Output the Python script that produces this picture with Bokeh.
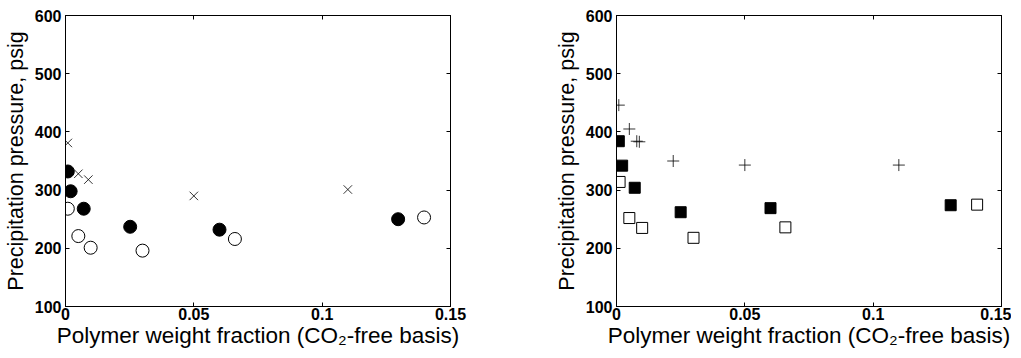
from bokeh.plotting import figure
from bokeh.layouts import row
from bokeh.models import Range1d, FixedTicker, LinearAxis
from bokeh.embed import file_html
from bokeh.resources import INLINE

# ---- Left panel data ----
L_cross_x = [0.0009, 0.005, 0.0089, 0.050, 0.110]
L_cross_y = [381, 328, 318, 290, 301]
L_fill_x = [0.0009, 0.002, 0.0071, 0.0252, 0.060, 0.1296]
L_fill_y = [332, 298, 268, 237, 232, 250]
L_open_x = [0.0009, 0.005, 0.0098, 0.030, 0.066, 0.1397]
L_open_y = [268, 221, 201, 196, 216, 253]

# ---- Right panel data ----
R_plus_x = [0.0009, 0.005, 0.0079, 0.0089, 0.0221, 0.050, 0.110]
R_plus_y = [446, 405, 384, 383, 350, 343, 343]
R_fill_x = [0.0009, 0.0022, 0.0071, 0.025, 0.060, 0.1302]
R_fill_y = [384, 342, 304, 262, 269, 274]
R_open_x = [0.0012, 0.005, 0.010, 0.030, 0.0658, 0.1405]
R_open_y = [314, 252, 235, 218, 236, 275]

x_ticks = [0, 0.05, 0.1, 0.15]
x_tick_labels = ["0", "0.05", "0.1", "0.15"]
y_ticks = [100, 200, 300, 400, 500, 600]

XLABEL = "Polymer weight fraction (CO\u2082-free basis)"
YLABEL = "Precipitation pressure, psig"
FONT = "Liberation Sans"


def make_fig(width, border_left, border_right):
    p = figure(width=width, height=350, output_backend="svg", toolbar_location=None,
               x_range=Range1d(0, 0.15), y_range=Range1d(100, 600),
               min_border_left=border_left, min_border_right=border_right,
               min_border_top=15, min_border_bottom=43)
    p.xgrid.visible = False
    p.ygrid.visible = False
    p.outline_line_color = "black"
    p.outline_line_width = 1
    p.background_fill_color = "white"
    p.border_fill_color = "white"

    xa = p.xaxis[0]
    ya = p.yaxis[0]
    xa.ticker = FixedTicker(ticks=x_ticks)
    xa.major_label_overrides = {t: l for t, l in zip(x_ticks, x_tick_labels)}
    ya.ticker = FixedTicker(ticks=y_ticks)
    for ax in (xa, ya):
        ax.major_tick_in = 4
        ax.major_tick_out = 0
        ax.minor_tick_line_color = None
        ax.axis_line_color = "black"
        ax.major_tick_line_color = "black"
        ax.major_label_text_font = FONT
        ax.major_label_text_font_style = "bold"
        ax.major_label_text_font_size = "16px"
        ax.major_label_text_color = "black"
        ax.axis_label_text_font = FONT
        ax.axis_label_text_font_style = "normal"
        ax.axis_label_text_color = "black"
    xa.axis_label_text_font_size = "22.5px"
    ya.axis_label_text_font_size = "21.5px"
    xa.axis_label = XLABEL
    ya.axis_label = YLABEL
    xa.major_label_standoff = 1
    ya.major_label_standoff = 4
    xa.axis_label_standoff = 0
    ya.axis_label_standoff = 4

    top = LinearAxis(ticker=FixedTicker(ticks=x_ticks))
    right = LinearAxis(ticker=FixedTicker(ticks=y_ticks))
    for ax in (top, right):
        ax.major_tick_in = 4
        ax.major_tick_out = 0
        ax.minor_tick_line_color = None
        ax.major_label_text_font_size = "1px"
        ax.major_label_text_color = None
        ax.major_label_standoff = 0
        ax.axis_line_color = "black"
    p.add_layout(top, "above")
    p.add_layout(right, "right")
    return p


left = make_fig(551, 65, 101)
left.scatter(L_cross_x, L_cross_y, marker="x", size=12, line_color="black", line_width=0.8)
left.scatter(L_fill_x, L_fill_y, marker="circle", size=13, fill_color="black", line_color="black")
left.scatter(L_open_x, L_open_y, marker="circle", size=13, fill_color="white", line_color="black", line_width=1)

right_p = make_fig(460, 63, 10)
right_p.scatter(R_plus_x, R_plus_y, marker="cross", size=12, line_color="black", line_width=0.8)
right_p.scatter(R_fill_x, R_fill_y, marker="square", size=11, fill_color="black", line_color="black")
right_p.scatter(R_open_x, R_open_y, marker="square", size=11, fill_color="white", line_color="black", line_width=1)

layout = row(left, right_p)
open("out.html", "w").write(file_html(layout, INLINE))
